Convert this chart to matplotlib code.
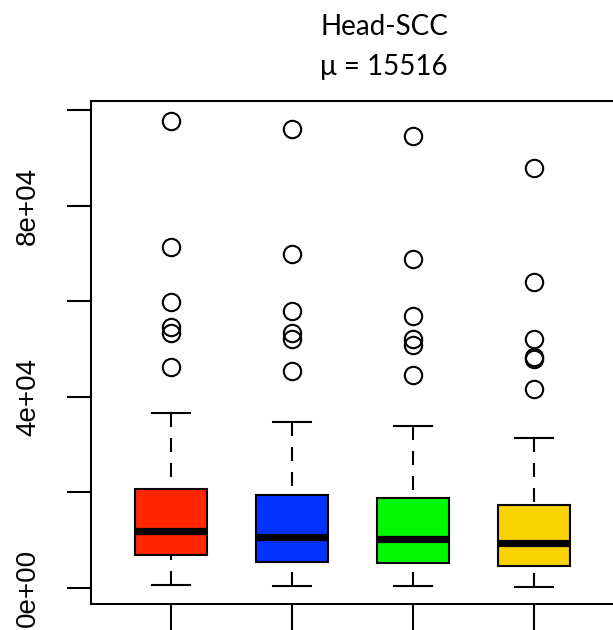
import matplotlib
matplotlib.use("Agg")
import matplotlib.pyplot as plt

# ---- data ----
groups = ["G1", "G2", "G3", "G4"]
colors = ["#FF2600", "#0433FF", "#00F900", "#F9D300"]
q1 = [6841, 5439, 5167, 4602]
med = [11924, 10669, 10251, 9351]
q3 = [20711, 19455, 18765, 17364]
whislo = [690, 356, 356, 272]
whishi = [36547, 34790, 33953, 31317]
fliers_g1 = [97758, 71401, 59831, 54664, 53283, 46296]
fliers_g2 = [96022, 69936, 58010, 53283, 52028, 45461]
fliers_g3 = [94492, 68764, 56840, 52028, 50836, 44497]
fliers_g4 = [87864, 63952, 52090, 48388, 47970, 41700]
fliers = [fliers_g1, fliers_g2, fliers_g3, fliers_g4]
title_line1 = "Head-SCC"
title_line2 = "\u03bc = 15516"
ytick_vals = [0, 20000, 40000, 60000, 80000, 100000]
ytick_labels = ["0e+00", "", "4e+04", "", "8e+04", ""]

W, H = 613, 630
fig = plt.figure(figsize=(W / 100, H / 100), dpi=100)
left_px, right_px, top_px, bot_px = 91, 677, 101, 604
ax = fig.add_axes([left_px / W, (H - bot_px) / H, (right_px - left_px) / W, (bot_px - top_px) / H])

stats = []
for i in range(len(groups)):
    stats.append(dict(label=groups[i], q1=q1[i], med=med[i], q3=q3[i],
                      whislo=whislo[i], whishi=whishi[i], fliers=fliers[i]))

positions = list(range(1, len(groups) + 1))
lw = 1.5
bp = ax.bxp(stats, positions=positions, widths=0.6, patch_artist=True,
            showfliers=True, manage_ticks=False,
            boxprops=dict(linewidth=lw, edgecolor="black"),
            medianprops=dict(color="black", linewidth=5.2, solid_capstyle="butt"),
            whiskerprops=dict(color="black", linewidth=lw, linestyle=(0, (6.7, 5.3)),
                              dash_capstyle="butt"),
            capprops=dict(color="black", linewidth=lw),
            flierprops=dict(marker="o", markersize=12.5, markerfacecolor="none",
                            markeredgecolor="black", markeredgewidth=1.5, linestyle="none"),
            capwidths=0.31)
for patch, c in zip(bp["boxes"], colors):
    patch.set_facecolor(c)
# start the dash pattern at the whisker end (cap), as R does
for wl in bp["whiskers"]:
    xd, yd = wl.get_data()
    wl.set_data(list(xd)[::-1], list(yd)[::-1])

ax.set_xlim(0.339, 5.18)
ax.set_ylim(-3350, 101880)

for sp in ax.spines.values():
    sp.set_linewidth(1.5)

ax.set_xticks(positions)
ax.set_xticklabels([])
ax.tick_params(axis="x", length=19, width=1.5, direction="out")

ax.set_yticks(ytick_vals)
ax.set_yticklabels(ytick_labels, rotation=90, va="center", fontsize=20,
                   family=["Liberation Sans", "DejaVu Sans"])
ax.tick_params(axis="y", length=17, width=1.5, direction="out", pad=19)

fig.text(384 / W, (H - 35) / H, title_line1, ha="center", va="baseline",
         fontsize=20, family=["Lato", "DejaVu Sans"])
fig.text(384 / W, (H - 75) / H, title_line2, ha="center", va="baseline",
         fontsize=20, family=["Lato", "DejaVu Sans"])

fig.savefig("out.png", dpi=100)
